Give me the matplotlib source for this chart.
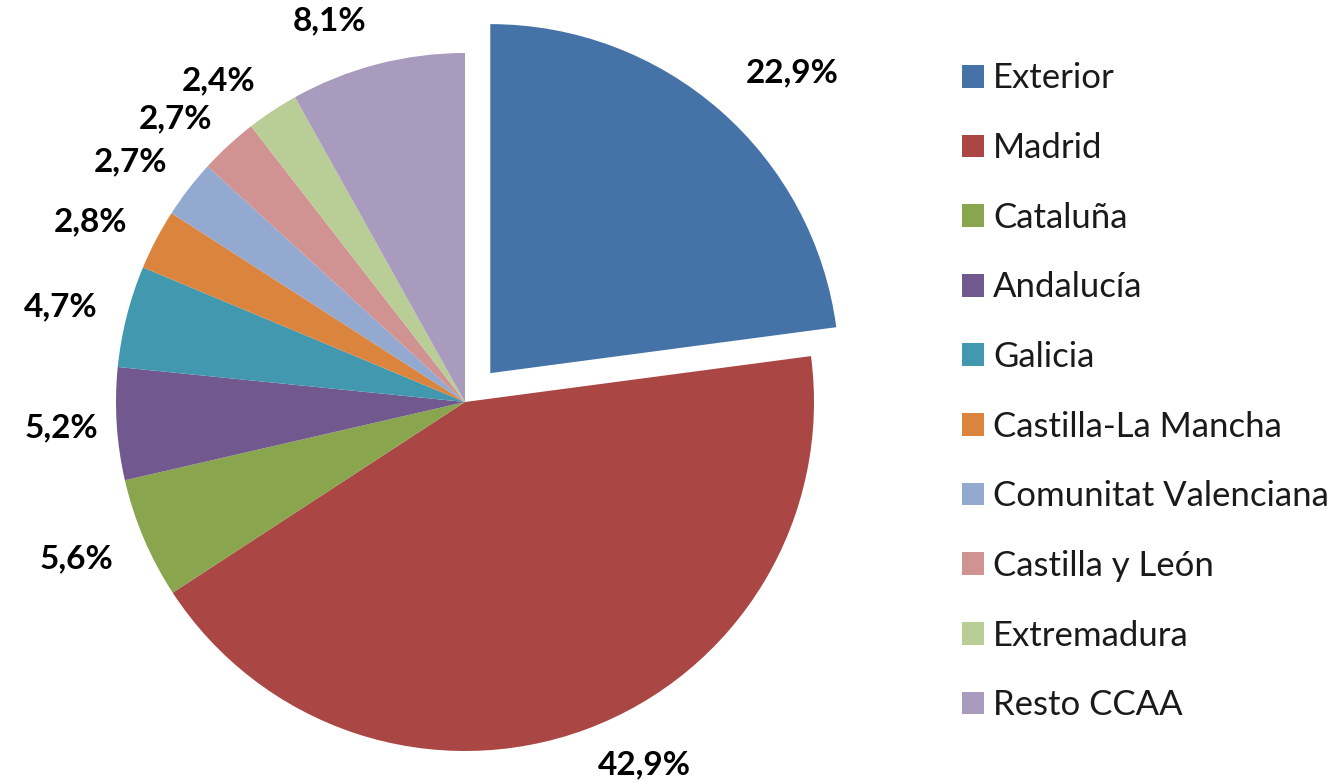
import numpy as np
import matplotlib.pyplot as plt
import matplotlib.patches as mpatches

regiones = ["Exterior", "Madrid", "Cataluña", "Andalucía", "Galicia",
            "Castilla-La Mancha", "Comunitat Valenciana", "Castilla y León",
            "Extremadura", "Resto CCAA"]
porcentajes = [22.9, 42.9, 5.6, 5.2, 4.7, 2.8, 2.7, 2.7, 2.4, 8.1]
colores = ["#4572A7", "#AA4643", "#89A54E", "#71588F", "#4198AF",
           "#DB843D", "#93A9CF", "#D19392", "#B9CD96", "#A99BBD"]
explode = [0.11, 0, 0, 0, 0, 0, 0, 0, 0, 0]
# label placement tweaks (angle nudge in degrees, radius) to mimic Excel
nudge = [-4, 6, -1, 0, 1, 2, 2, 3, 4, 5]
lbl_r = [1.22, 1.16, 1.2, 1.16, 1.19, 1.19, 1.18, 1.16, 1.16, 1.16]

W, H = 1340, 782
cx, cy, R = 465, 402, 349   # pie centre / radius in pixels

fig = plt.figure(figsize=(W / 100, H / 100), dpi=100)
fig.patch.set_facecolor('white')
ax = fig.add_axes([0, 0, 1, 1])

wedges, _ = ax.pie(porcentajes, colors=colores, explode=explode,
                   startangle=90, counterclock=False,
                   wedgeprops=dict(linewidth=0))
ax.set_xlim(-cx / R, (W - cx) / R)
ax.set_ylim(-(H - cy) / R, cy / R)
ax.set_aspect('auto')
ax.axis('off')

lbl_font = dict(family=['Lato', 'DejaVu Sans'], fontsize=24, fontweight='bold')
for w, p, ex, dn, r in zip(wedges, porcentajes, explode, nudge, lbl_r):
    mid = np.deg2rad((w.theta1 + w.theta2) / 2)
    ang = mid + np.deg2rad(dn)
    ox, oy = ex * np.cos(mid), ex * np.sin(mid)
    ax.text(ox + r * np.cos(ang), oy + r * np.sin(ang),
            f"{p:.1f}%".replace('.', ','), ha='center', va='center',
            color='black', **lbl_font)

handles = [mpatches.Patch(facecolor=c, edgecolor='none', label=l)
           for c, l in zip(colores, regiones)]
leg = fig.legend(handles=handles, loc='upper left',
                 bbox_to_anchor=(962 / W, 1 - 62.5 / H),
                 frameon=False, borderpad=0, borderaxespad=0,
                 handlelength=0.63, handleheight=0.63, handletextpad=0.27,
                 labelspacing=1.084,
                 prop=dict(family=['Lato', 'DejaVu Sans'], size=25))
for t in leg.get_texts():
    t.set_color('#1a1a1a')

plt.savefig('out.png', dpi=100, facecolor='white')
